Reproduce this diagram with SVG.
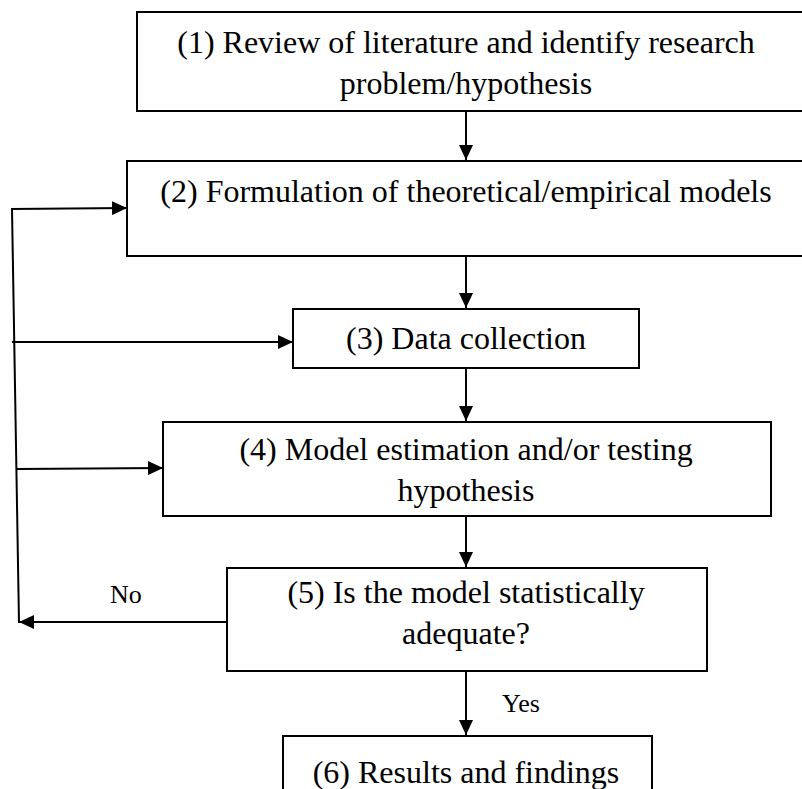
<svg xmlns="http://www.w3.org/2000/svg" width="802" height="789" viewBox="0 0 802 789">
<defs>
<marker id="ah" markerWidth="15" markerHeight="14" refX="15" refY="7" orient="auto" markerUnits="userSpaceOnUse">
<path d="M0,0 L15,7 L0,14 Z" fill="#000"/>
</marker>
<style>
.box{fill:#fff;stroke:#000;stroke-width:2}
.t{font-family:"Liberation Serif","Times New Roman",serif;font-size:32px;fill:#000;text-anchor:middle}
.l{font-family:"Liberation Serif","Times New Roman",serif;font-size:26px;fill:#000}
.c{fill:none;stroke:#000;stroke-width:2}
</style>
</defs>
<rect width="802" height="789" fill="#fff"/>
<g id="n1"><rect class="box" x="137" y="12" width="680" height="99"/>
<text class="t" x="466" y="53">(1) Review of literature and identify research</text>
<text class="t" x="466" y="94">problem/hypothesis</text></g>
<g id="n2"><rect class="box" x="127" y="161" width="690" height="95"/>
<text class="t" x="466" y="202">(2) Formulation of theoretical/empirical models</text></g>
<g id="n3"><rect class="box" x="293" y="309" width="346" height="59"/>
<text class="t" x="466" y="349">(3) Data collection</text></g>
<g id="n4"><rect class="box" x="163" y="422" width="608" height="94"/>
<text class="t" x="466" y="460">(4) Model estimation and/or testing</text>
<text class="t" x="466" y="501">hypothesis</text></g>
<g id="n5"><rect class="box" x="227" y="568" width="480" height="103"/>
<text class="t" x="466" y="603">(5) Is the model statistically</text>
<text class="t" x="466" y="644">adequate?</text></g>
<g id="n6"><rect class="box" x="283" y="736" width="369" height="70"/>
<text class="t" x="466" y="783">(6) Results and findings</text></g>
<g id="connectors">
<line class="c" x1="466" y1="111" x2="466" y2="160" marker-end="url(#ah)"/>
<line class="c" x1="466" y1="256" x2="466" y2="308" marker-end="url(#ah)"/>
<line class="c" x1="466" y1="368" x2="466" y2="421" marker-end="url(#ah)"/>
<line class="c" x1="466" y1="516" x2="466" y2="567" marker-end="url(#ah)"/>
<line class="c" x1="466" y1="671" x2="466" y2="735" marker-end="url(#ah)"/>
<line class="c" x1="227" y1="622" x2="19" y2="622" marker-end="url(#ah)"/>
<line class="c" x1="19" y1="623" x2="12" y2="209"/>
<line class="c" x1="11" y1="209" x2="127" y2="208" marker-end="url(#ah)"/>
<line class="c" x1="12" y1="342" x2="293" y2="342" marker-end="url(#ah)"/>
<line class="c" x1="17" y1="469" x2="163" y2="468" marker-end="url(#ah)"/>
<text class="l" x="110" y="603">No</text>
<text class="l" x="502" y="712">Yes</text>
</g>
</svg>
